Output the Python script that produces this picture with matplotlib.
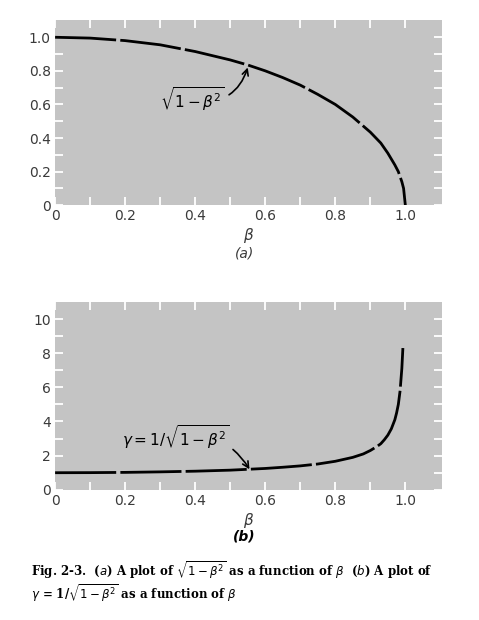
import matplotlib.pyplot as plt

# values
beta = [0.0, 0.1, 0.2, 0.3, 0.4, 0.5, 0.55, 0.6, 0.65, 0.7, 0.75, 0.8, 0.85, 0.9, 0.93, 0.95, 0.97, 0.98, 0.99, 0.995, 1.0]
root = [1.0, 0.995, 0.98, 0.955, 0.915, 0.865, 0.835, 0.80, 0.76, 0.715, 0.66, 0.60, 0.525, 0.435, 0.37, 0.31, 0.24, 0.2, 0.14, 0.1, 0.0]
beta_g = [0.0, 0.1, 0.2, 0.3, 0.4, 0.5, 0.6, 0.65, 0.7, 0.75, 0.8, 0.85, 0.88, 0.9, 0.92, 0.93, 0.94, 0.95, 0.96, 0.97, 0.975, 0.98, 0.985, 0.99, 0.993]
gamma = [1.0, 1.005, 1.02, 1.05, 1.09, 1.15, 1.25, 1.32, 1.4, 1.51, 1.67, 1.9, 2.1, 2.3, 2.55, 2.7, 2.93, 3.2, 3.57, 4.1, 4.5, 5.0, 5.8, 7.1, 8.3]

xticks = [0, 0.2, 0.4, 0.6, 0.8, 1.0]
xlabels = ['0', '0.2', '0.4', '0.6', '0.8', '1.0']

bg = '#c4c4c4'
txt = '#3a3a3a'

fig = plt.figure(figsize=(4.79, 6.2), dpi=100)
ax1 = fig.add_axes([0.115, 0.669, 0.808, 0.298])
ax2 = fig.add_axes([0.115, 0.21, 0.808, 0.303])

def style(ax, yticks, ylabels, ymax, minor_y):
    ax.set_facecolor(bg)
    for s in ax.spines.values():
        s.set_visible(False)
    ax.set_xlim(0, 1.105)
    ax.set_ylim(0, ymax)
    ax.set_xticks(xticks)
    ax.set_xticklabels(xlabels)
    ax.set_xticks([i / 10 for i in range(11)], minor=True)
    ax.set_yticks(yticks)
    ax.set_yticklabels(ylabels)
    ax.set_yticks(minor_y, minor=True)
    ax.tick_params(which='both', direction='in', color='white', width=1.3, length=6,
                   top=True, right=True, labelsize=10, labelcolor=txt, pad=3)
    ax.set_xlabel(r'$\beta$', color=txt, fontsize=11, labelpad=2)

style(ax1, [0, 0.2, 0.4, 0.6, 0.8, 1.0], ['0', '0.2', '0.4', '0.6', '0.8', '1.0'], 1.1,
      [i / 10 for i in range(11)])
style(ax2, [0, 2, 4, 6, 8, 10], ['0', '2', '4', '6', '8', '10'], 11, list(range(11)))

ls = (0, (22, 1.5))
ax1.plot(beta, root, color='black', lw=2, linestyle=ls, solid_capstyle='butt')
ax2.plot(beta_g, gamma, color='black', lw=2, linestyle=ls, solid_capstyle='butt')

ax1.annotate(r'$\sqrt{1-\beta^2}$', xy=(0.55, 0.82), xytext=(0.3, 0.63), fontsize=11,
             va='center',
             arrowprops=dict(arrowstyle='->', color='black', lw=1.2,
                             connectionstyle='arc3,rad=0.45', shrinkA=1, shrinkB=0))
ax2.annotate(r'$\gamma = 1/\sqrt{1-\beta^2}$', xy=(0.555, 1.2), xytext=(0.19, 3.1), fontsize=11,
             va='center',
             arrowprops=dict(arrowstyle='->', color='black', lw=1.2,
                             connectionstyle='arc3,rad=-0.35', shrinkA=1, shrinkB=0))

fig.text(0.51, 0.585, '(a)', fontsize=10, style='italic', color=txt, ha='center')
fig.text(0.51, 0.128, '(b)', fontsize=10, style='italic', fontweight='bold', color='black', ha='center')

fig.text(0.065, 0.07, r'Fig. 2-3.  ($a$) A plot of $\sqrt{1-\beta^2}$ as a function of $\beta$  ($b$) A plot of',
         fontsize=8.5, family='DejaVu Serif', fontweight='bold')
fig.text(0.065, 0.033, r'$\gamma$ = 1/$\sqrt{1-\beta^2}$ as a function of $\beta$',
         fontsize=8.5, family='DejaVu Serif', fontweight='bold')

fig.savefig('out.png', dpi=100, facecolor='white')
